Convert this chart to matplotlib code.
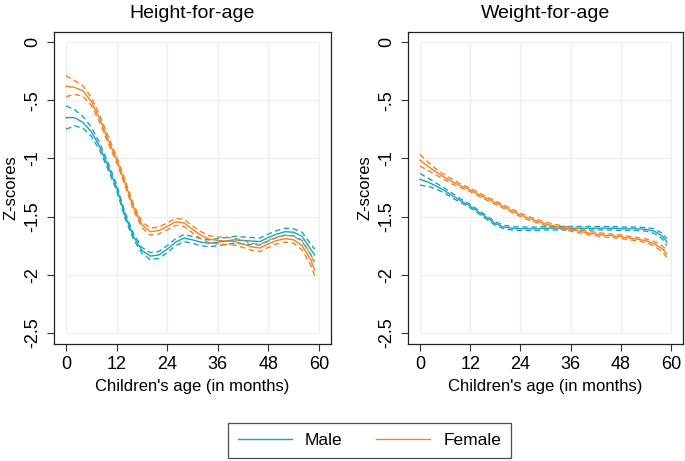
import matplotlib.pyplot as plt

plt.rcParams['font.family'] = ['Liberation Sans', 'DejaVu Sans']

# ages (months)
age = [0, 2, 4, 6, 8, 10, 12, 14, 16, 18, 20, 22, 24, 26, 28, 30,
       32, 34, 36, 38, 40, 42, 44, 46, 48, 50, 52, 54, 56, 58, 59]

# height-for-age z-scores
haz_male = [-0.65, -0.65, -0.69, -0.77, -0.90, -1.07, -1.25, -1.49, -1.67, -1.79, -1.84,
            -1.83, -1.78, -1.72, -1.685, -1.70, -1.72, -1.73, -1.72, -1.71, -1.70,
            -1.705, -1.71, -1.715, -1.68, -1.65, -1.63, -1.635, -1.67, -1.78, -1.83]
haz_female = [-0.38, -0.39, -0.42, -0.51, -0.66, -0.84, -1.01, -1.21, -1.42, -1.57, -1.63,
              -1.62, -1.585, -1.545, -1.555, -1.61, -1.66, -1.695, -1.705, -1.71, -1.715,
              -1.735, -1.76, -1.77, -1.735, -1.705, -1.69, -1.70, -1.75, -1.87, -1.96]
haz_male_ci = [0.10, 0.07, 0.05, 0.04, 0.03, 0.03, 0.025, 0.025, 0.025, 0.025, 0.03,
               0.03, 0.03, 0.03, 0.03, 0.03, 0.03, 0.03, 0.03, 0.03, 0.03,
               0.03, 0.03, 0.03, 0.03, 0.03, 0.03, 0.03, 0.035, 0.045, 0.05]
haz_female_ci = [0.09, 0.06, 0.045, 0.035, 0.03, 0.03, 0.025, 0.025, 0.025, 0.025, 0.03,
                 0.03, 0.03, 0.03, 0.03, 0.03, 0.03, 0.03, 0.03, 0.03, 0.03,
                 0.03, 0.03, 0.03, 0.03, 0.03, 0.03, 0.03, 0.035, 0.045, 0.05]

# weight-for-age z-scores
waz_male = [-1.18, -1.205, -1.24, -1.28, -1.325, -1.37, -1.41, -1.46, -1.51, -1.56, -1.59,
            -1.60, -1.605, -1.605, -1.605, -1.60, -1.60, -1.60, -1.60, -1.60, -1.60,
            -1.60, -1.60, -1.60, -1.605, -1.605, -1.605, -1.61, -1.625, -1.67, -1.72]
waz_female = [-1.015, -1.07, -1.12, -1.165, -1.205, -1.24, -1.27, -1.31, -1.345, -1.38, -1.415,
              -1.45, -1.485, -1.515, -1.54, -1.563, -1.58, -1.595, -1.61, -1.625, -1.64,
              -1.65, -1.66, -1.665, -1.673, -1.685, -1.695, -1.708, -1.735, -1.78, -1.82]
waz_male_ci = [0.05, 0.035, 0.025, 0.02, 0.02, 0.015, 0.015, 0.015, 0.015, 0.015, 0.015,
               0.015, 0.015, 0.015, 0.015, 0.015, 0.015, 0.015, 0.015, 0.015, 0.015,
               0.015, 0.015, 0.015, 0.015, 0.015, 0.015, 0.015, 0.02, 0.025, 0.03]
waz_female_ci = [0.05, 0.035, 0.025, 0.02, 0.02, 0.015, 0.015, 0.015, 0.015, 0.015, 0.015,
                 0.015, 0.015, 0.015, 0.015, 0.015, 0.015, 0.015, 0.015, 0.015, 0.015,
                 0.015, 0.015, 0.015, 0.015, 0.015, 0.015, 0.015, 0.02, 0.025, 0.03]

titles = ["Height-for-age", "Weight-for-age"]
xticks = [0, 12, 24, 36, 48, 60]
yticks = [0, -0.5, -1, -1.5, -2, -2.5]
ylabels = ["0", "-.5", "-1", "-1.5", "-2", "-2.5"]

c_male = '#1BA3C4'
c_female = '#F5821F'

fig = plt.figure(figsize=(6.85, 4.61), dpi=100)
ax1 = fig.add_axes([0.0788, 0.2538, 0.4044, 0.6768])
ax2 = fig.add_axes([0.5956, 0.2538, 0.4015, 0.6768])

panels = [(ax1, haz_male, haz_male_ci, haz_female, haz_female_ci),
          (ax2, waz_male, waz_male_ci, waz_female, waz_female_ci)]

for k, (ax, zm, cm, zf, cf) in enumerate(panels):
    # grid only inside the data range, like stata
    ax.hlines(yticks, xticks[0], xticks[-1], color='#EEEEEE', lw=0.9, zorder=0)
    ax.vlines(xticks, yticks[-1], yticks[0], color='#EEEEEE', lw=0.9, zorder=0)
    for z, ci, col, lab in [(zm, cm, c_male, "Male"), (zf, cf, c_female, "Female")]:
        lo = [a - b for a, b in zip(z, ci)]
        hi = [a + b for a, b in zip(z, ci)]
        ax.plot(age, z, color=col, lw=1.0, label=lab)
        ax.plot(age, lo, color=col, lw=1.0, ls=(0, (4, 2.5)))
        ax.plot(age, hi, color=col, lw=1.0, ls=(0, (4, 2.5)))
    ax.set_xlim(-2.85, 62.85)
    ax.set_ylim(-2.595, 0.086)
    ax.set_xticks(xticks)
    ax.set_yticks(yticks)
    ax.set_yticklabels(ylabels, rotation=90, va='center')
    ax.tick_params(labelsize=13, length=5, width=0.8, color='#333333', pad=4)
    for s in ax.spines.values():
        s.set_color('#222222')
        s.set_linewidth(0.9)
    ax.set_title(titles[k], fontsize=14, pad=10)
    ax.set_xlabel("Children's age (in months)", fontsize=12)
    ax.set_ylabel("Z-scores", fontsize=12)

handles, labels = ax1.get_legend_handles_labels()
leg = fig.legend(handles, labels, loc='center',
                 bbox_to_anchor=(369.5 / 685, 1 - 440.5 / 461), ncol=2, fontsize=12.5,
                 frameon=True, fancybox=False, edgecolor='#222222',
                 handlelength=3.1, columnspacing=1.95, borderpad=0.55, handletextpad=0.75)
leg.get_frame().set_linewidth(0.9)

fig.savefig('out.png', dpi=100)
